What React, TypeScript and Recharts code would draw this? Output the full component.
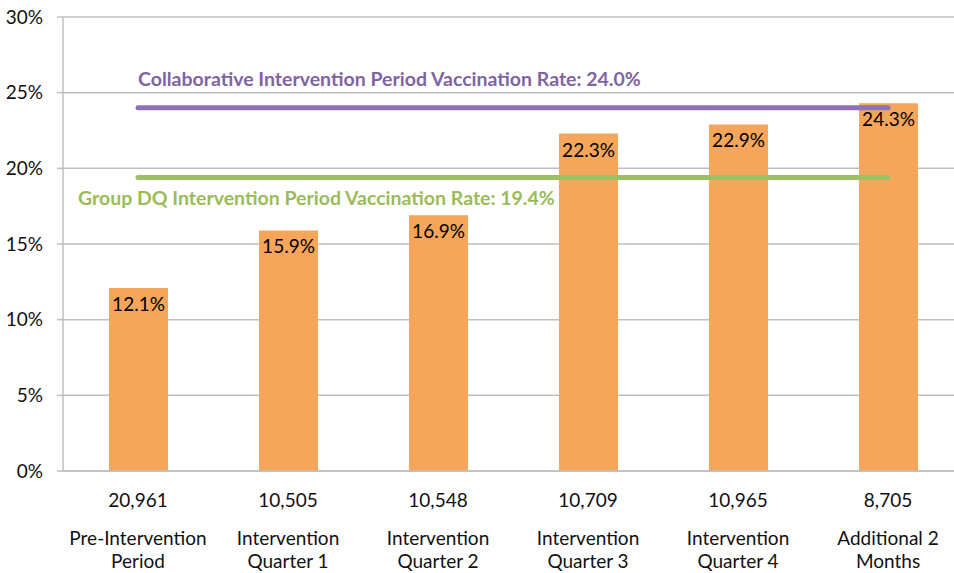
import React from 'react';
import { BarChart, Bar, XAxis, YAxis, CartesianGrid, ReferenceLine, LabelList } from 'recharts';

const categories = [
    'Pre-Intervention\nPeriod',
    'Intervention\nQuarter 1',
    'Intervention\nQuarter 2',
    'Intervention\nQuarter 3',
    'Intervention\nQuarter 4',
    'Additional 2\nMonths'
];
const patientCounts = ['20,961', '10,505', '10,548', '10,709', '10,965', '8,705'];
const vaccinationRates = [12.1, 15.9, 16.9, 22.3, 22.9, 24.3];
const yTicks = [0, 5, 10, 15, 20, 25, 30];

const collaborativeRate = 24.0;
const groupDqRate = 19.4;

const data = categories.map((name, i) => ({
    name,
    count: patientCounts[i],
    rate: vaccinationRates[i]
}));

const FONT = 'Lato, "Open Sans", sans-serif';

const CategoryTick = (props: any) => {
    const { x, y, payload, index } = props;
    const lines = String(payload.value).split('\n');
    return (
        <g transform={`translate(${x},${y})`}>
            <text x={0} y={28} textAnchor="middle" fill="#111" fontSize={19} fontFamily={FONT}>
                {patientCounts[index]}
            </text>
            {lines.map((line, i) => (
                <text key={i} x={0} y={66 + i * 23} textAnchor="middle" fill="#111" fontSize={19} fontFamily={FONT}>
                    {line}
                </text>
            ))}
        </g>
    );
};

const BarValueLabel = (props: any) => {
    const { x, y, width, value } = props;
    return (
        <text x={x + width / 2} y={y + 23} textAnchor="middle" fill="#000" fontSize={19} fontFamily={FONT}>
            {`${value.toFixed(1)}%`}
        </text>
    );
};

const lineLabel = (text: string, color: string, dx: number, dy: number) => (props: any) => {
    const vb = props.viewBox || {};
    return (
        <text x={vb.x + dx} y={vb.y + dy} fill={color} fontSize={19.5} fontWeight="bold" fontFamily={FONT}>
            {text}
        </text>
    );
};

export default function App() {
    return (
        <div style={{ position: 'absolute', left: 0, top: 0, width: 954, height: 573, overflow: 'hidden', background: '#fff' }}>
            <BarChart
                width={963}
                height={573}
                data={data}
                margin={{ top: 17, right: 0, left: 0, bottom: 0 }}
            >
                <CartesianGrid stroke="#bfbfbf" strokeWidth={1.5} vertical={false} />
                <XAxis
                    dataKey="name"
                    interval={0}
                    height={102}
                    axisLine={{ stroke: '#bfbfbf', strokeWidth: 1.5 }}
                    tickLine={false}
                    tick={<CategoryTick />}
                />
                <YAxis
                    width={63}
                    domain={[0, 30]}
                    ticks={yTicks}
                    interval={0}
                    axisLine={{ stroke: '#bfbfbf', strokeWidth: 1.5 }}
                    tickLine={{ stroke: '#bfbfbf', strokeWidth: 1.5 }}
                    tickSize={6}
                    tickMargin={14}
                    tick={{ fill: '#111', fontSize: 19, fontFamily: FONT }}
                    tickFormatter={(v) => `${v}%`}
                />
                <Bar dataKey="rate" fill="#f6a65a" barSize={59} isAnimationActive={false}>
                    <LabelList dataKey="rate" content={<BarValueLabel />} />
                </Bar>
                <ReferenceLine
                    segment={[{ x: categories[0], y: collaborativeRate }, { x: categories[5], y: collaborativeRate }]}
                    stroke="#8f72b4"
                    strokeWidth={5}
                    strokeLinecap="round"
                    label={lineLabel(`Collaborative Intervention Period Vaccination Rate: ${collaborativeRate.toFixed(1)}%`, '#8064a2', 0, -22)}
                />
                <ReferenceLine
                    segment={[{ x: categories[0], y: groupDqRate }, { x: categories[5], y: groupDqRate }]}
                    stroke="#9bc164"
                    strokeWidth={5}
                    strokeLinecap="round"
                    label={lineLabel(`Group DQ Intervention Period Vaccination Rate: ${groupDqRate.toFixed(1)}%`, '#9bbb59', -60, 28)}
                />
            </BarChart>
        </div>
    );
}
